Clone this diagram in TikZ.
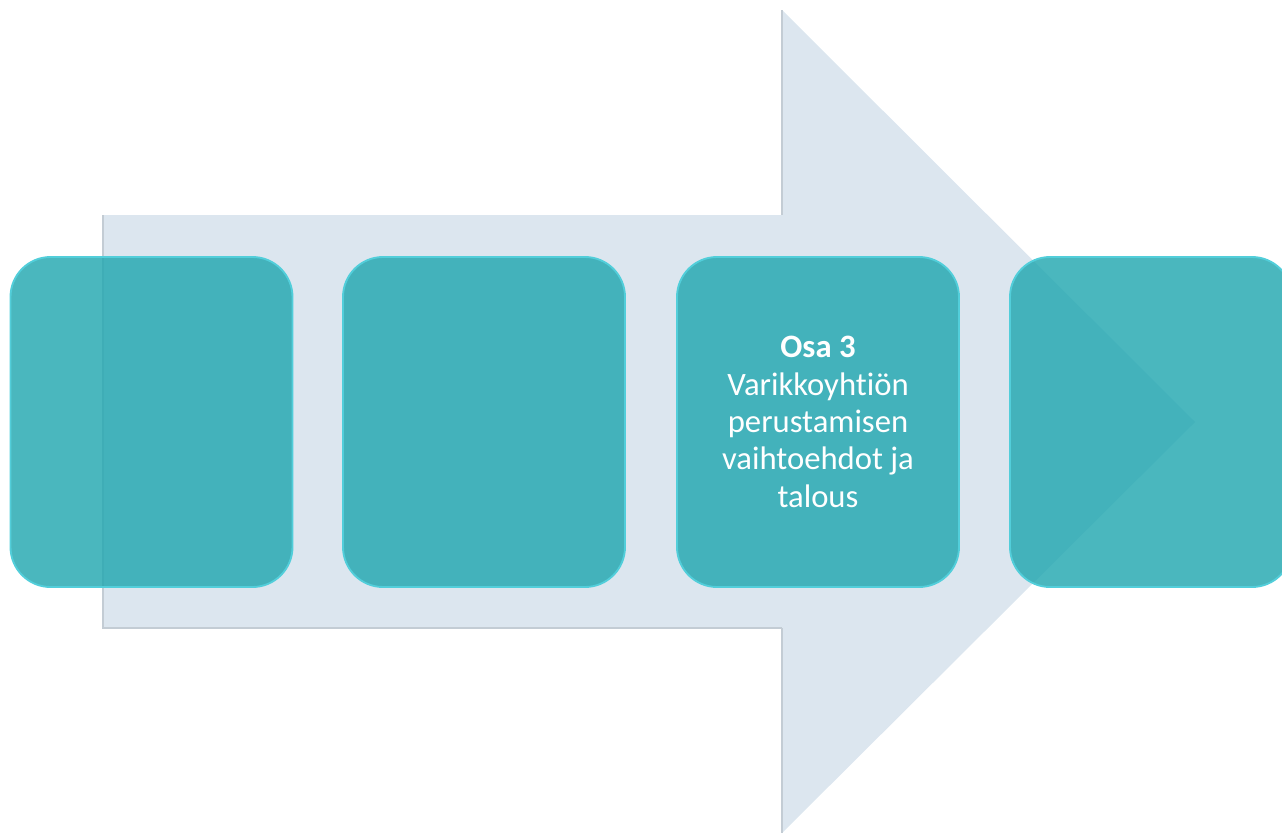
\documentclass[tikz,border=0pt]{standalone}
\usepackage{fontspec}
\setmainfont{Carlito}[Ligatures=NoCommon]
\begin{document}
\begin{tikzpicture}[x=0.75pt,y=-0.75pt,
  arrowfill/.style={fill=arrowblue},
  stagebox/.style={rounded corners=30pt, fill=teal0, fill opacity=0.82,
    draw=rimcyan, line width=1.4pt,
    minimum width=211.5pt, minimum height=247.5pt, inner sep=0pt},
  stagetext/.style={text=white, align=center, font=\fontsize{24.5}{28}\selectfont}]
\definecolor{arrowblue}{HTML}{DCE6EF}
\definecolor{arrowedge}{HTML}{C3CCD4}
\definecolor{teal0}{HTML}{22A7B0}
\definecolor{rimcyan}{HTML}{52CEDA}
\useasboundingbox (0,0) rectangle (1282,836);
\clip (0,0) rectangle (1282,836);
% process arrow
\fill[arrowfill] (103,215) -- (782,215) -- (782,10) -- (1195,422)
  -- (782,833) -- (782,628) -- (103,628) -- cycle;
\draw[arrowedge, line width=1.2pt] (103,215) -- (103,628) -- (782,628);
\draw[arrowedge, line width=1.2pt] (782,10) -- (782,215);
\draw[arrowedge, line width=1.2pt] (782,628) -- (782,833);
\draw[white, line width=1pt] (104,214) -- (781,214);
% stages
\node[stagebox] (s1) at (151.5,422) {};
\node[stagebox] (s2) at (484,422) {};
\node[stagebox] (s3) at (818,422) {};
\node[stagebox] (s4) at (1151,422) {};
\node[stagetext] (t3) at (s3.center) {\textbf{Osa 3}\\Varikkoyhtiön\\perustamisen\\vaihtoehdot ja\\talous};
\end{tikzpicture}
\end{document}
